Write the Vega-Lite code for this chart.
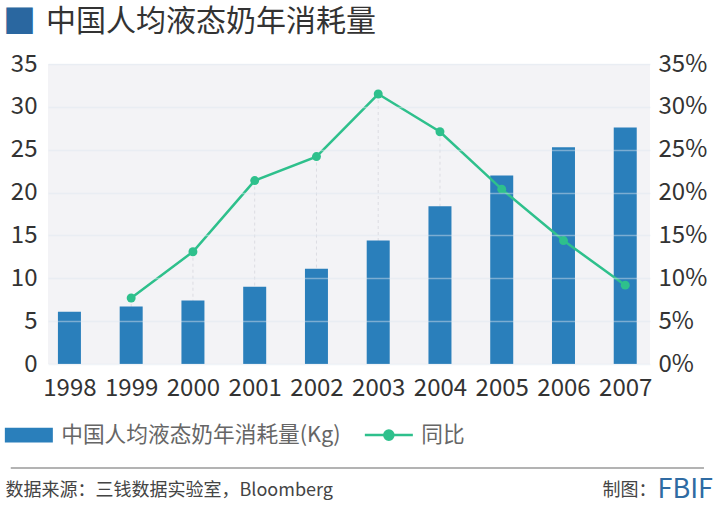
{
  "$schema": "https://vega.github.io/schema/vega-lite/v6.json",
  "description": "中国人均液态奶年消耗量 1998-2007, bars (Kg) with year-on-year growth line on a right axis.",
  "width": 602,
  "height": 300,
  "autosize": {"type": "none"},
  "padding": {"left": 48, "top": 64, "right": 70, "bottom": 147},
  "background": "#ffffff",
  "title": {
    "text": "■",
    "subtitle": "⠀\u2002\u2009中国人均液态奶年消耗量",
    "anchor": "start",
    "frame": "group",
    "dx": -45,
    "offset": 12,
    "fontSize": 33,
    "fontWeight": "normal",
    "color": "#2a67a0",
    "subtitleFontSize": 30,
    "subtitleColor": "#333333",
    "subtitlePadding": -33
  },
  "data": {
    "values": [
      {"year": 1998, "kg": 6.1, "yoy": null},
      {"year": 1999, "kg": 6.7, "yoy": 0.077},
      {"year": 2000, "kg": 7.4, "yoy": 0.131},
      {"year": 2001, "kg": 9.0, "yoy": 0.214},
      {"year": 2002, "kg": 11.1, "yoy": 0.242},
      {"year": 2003, "kg": 14.4, "yoy": 0.315},
      {"year": 2004, "kg": 18.4, "yoy": 0.271},
      {"year": 2005, "kg": 22.0, "yoy": 0.204},
      {"year": 2006, "kg": 25.3, "yoy": 0.144},
      {"year": 2007, "kg": 27.6, "yoy": 0.092}
    ]
  },
  "layer": [
    {
      "transform": [{"filter": "isValid(datum.yoy)"}],
      "mark": {"type": "rule", "color": "#dcdce2", "strokeWidth": 1, "strokeDash": [3, 3]},
      "encoding": {
        "x": {"field": "year", "type": "quantitative", "scale": {"domain": [1997.734, 2007.32]}},
        "y": {"field": "yoy", "type": "quantitative", "scale": {"domain": [0, 0.35]}, "axis": null},
        "y2": {"datum": 0}
      }
    },
    {
      "layer": [
        {
          "mark": {"type": "bar", "width": 23},
          "encoding": {
            "x": {
              "field": "year",
              "type": "quantitative",
              "scale": {"domain": [1997.734, 2007.32]},
              "axis": {
                "values": [1998, 1999, 2000, 2001, 2002, 2003, 2004, 2005, 2006, 2007],
                "format": "d",
                "grid": false,
                "labelPadding": 12,
                "labelFlush": false,
                "labelOverlap": false,
                "labelBound": false,
                "title": "数据来源：三钱数据实验室，Bloomberg",
                "titleX": -43,
                "titleY": 126,
                "titleAlign": "left",
                "titleBaseline": "middle",
                "titleFontSize": 18,
                "titleFontWeight": "normal",
                "titleColor": "#444444"
              }
            },
            "y": {
              "field": "kg",
              "type": "quantitative",
              "scale": {"domain": [0, 35]},
              "axis": {
                "orient": "left",
                "values": [0, 5, 10, 15, 20, 25, 30, 35],
                "grid": true,
                "gridColor": "#dde6ef",
                "gridOpacity": 0.45,
                "gridWidth": 1.3,
                "labelPadding": 11,
                "zindex": 1,
                "title": "制图：",
                "titleAngle": 0,
                "titleX": 554,
                "titleY": 426,
                "titleAlign": "left",
                "titleBaseline": "middle",
                "titleFontSize": 18,
                "titleFontWeight": "normal",
                "titleColor": "#444444"
              }
            },
            "color": {
              "datum": "中国人均液态奶年消耗量(Kg)",
              "type": "nominal",
              "scale": {
                "domain": ["中国人均液态奶年消耗量(Kg)", "同比"],
                "range": ["#2a7fbb", "#2ec08c"]
              },
              "legend": {
                "orient": "none",
                "legendX": -30,
                "legendY": 360,
                "direction": "horizontal",
                "title": null,
                "symbolSize": 2304,
                "labelFontSize": 21.7,
                "labelLimit": 0,
                "labelColor": "#666666",
                "labelOffset": 21.5,
                "columnPadding": 17,
                "encode": {
                  "symbols": {
                    "update": {
                      "shape": {"signal": "datum.value === '同比' ? 'M-1,0H1M0.19,0A0.19,0.19,0,1,1,-0.19,0A0.19,0.19,0,1,1,0.19,0Z' : 'M-1,-0.31H1V0.31H-1Z'"},
                      "fill": {"signal": "datum.value === '同比' ? '#2ec08c' : '#2a7fbb'"},
                      "stroke": {"signal": "datum.value === '同比' ? '#2ec08c' : '#2a7fbb'"},
                      "strokeWidth": {"signal": "datum.value === '同比' ? 2.5 : 0"},
                      "opacity": {"value": 1}
                    }
                  }
                }
              }
            }
          }
        },
        {
          "data": {"values": [{"part": "footer"}]},
          "mark": {"type": "rule", "color": "#9a9a9a", "strokeWidth": 1.5},
          "encoding": {
            "x": {"datum": 1997.05, "type": "quantitative", "scale": {"domain": [1997.734, 2007.32]}},
            "x2": {"datum": 2008.275},
            "y": {"datum": -12.13, "type": "quantitative", "scale": {"domain": [0, 35]}}
          }
        }
      ]
    },
    {
      "transform": [{"filter": "isValid(datum.yoy)"}],
      "mark": {"type": "line", "strokeWidth": 2.5, "point": {"filled": true, "size": 80}},
      "encoding": {
        "x": {"field": "year", "type": "quantitative", "scale": {"domain": [1997.734, 2007.32]}},
        "y": {
          "field": "yoy",
          "type": "quantitative",
          "scale": {"domain": [0, 0.35]},
          "axis": {
            "orient": "right",
            "values": [0, 0.05, 0.1, 0.15, 0.2, 0.25, 0.3, 0.35],
            "format": ".0%",
            "grid": false,
            "labelPadding": 8,
            "title": "FBIF",
            "titleAngle": 0,
            "titleX": 7,
            "titleY": 425,
            "titleAlign": "left",
            "titleBaseline": "middle",
            "titleFontSize": 27,
            "titleFontWeight": "normal",
            "titleColor": "#2f6ba3"
          }
        },
        "color": {"datum": "同比", "type": "nominal"}
      }
    }
  ],
  "resolve": {"scale": {"y": "independent"}, "axis": {"y": "independent"}},
  "config": {
    "font": "Noto Sans CJK SC",
    "view": {"fill": "#f3f3f6", "stroke": null},
    "axis": {
      "labelFontSize": 24,
      "labelColor": "#333333",
      "ticks": false,
      "tickSize": 0,
      "domain": false
    }
  }
}
